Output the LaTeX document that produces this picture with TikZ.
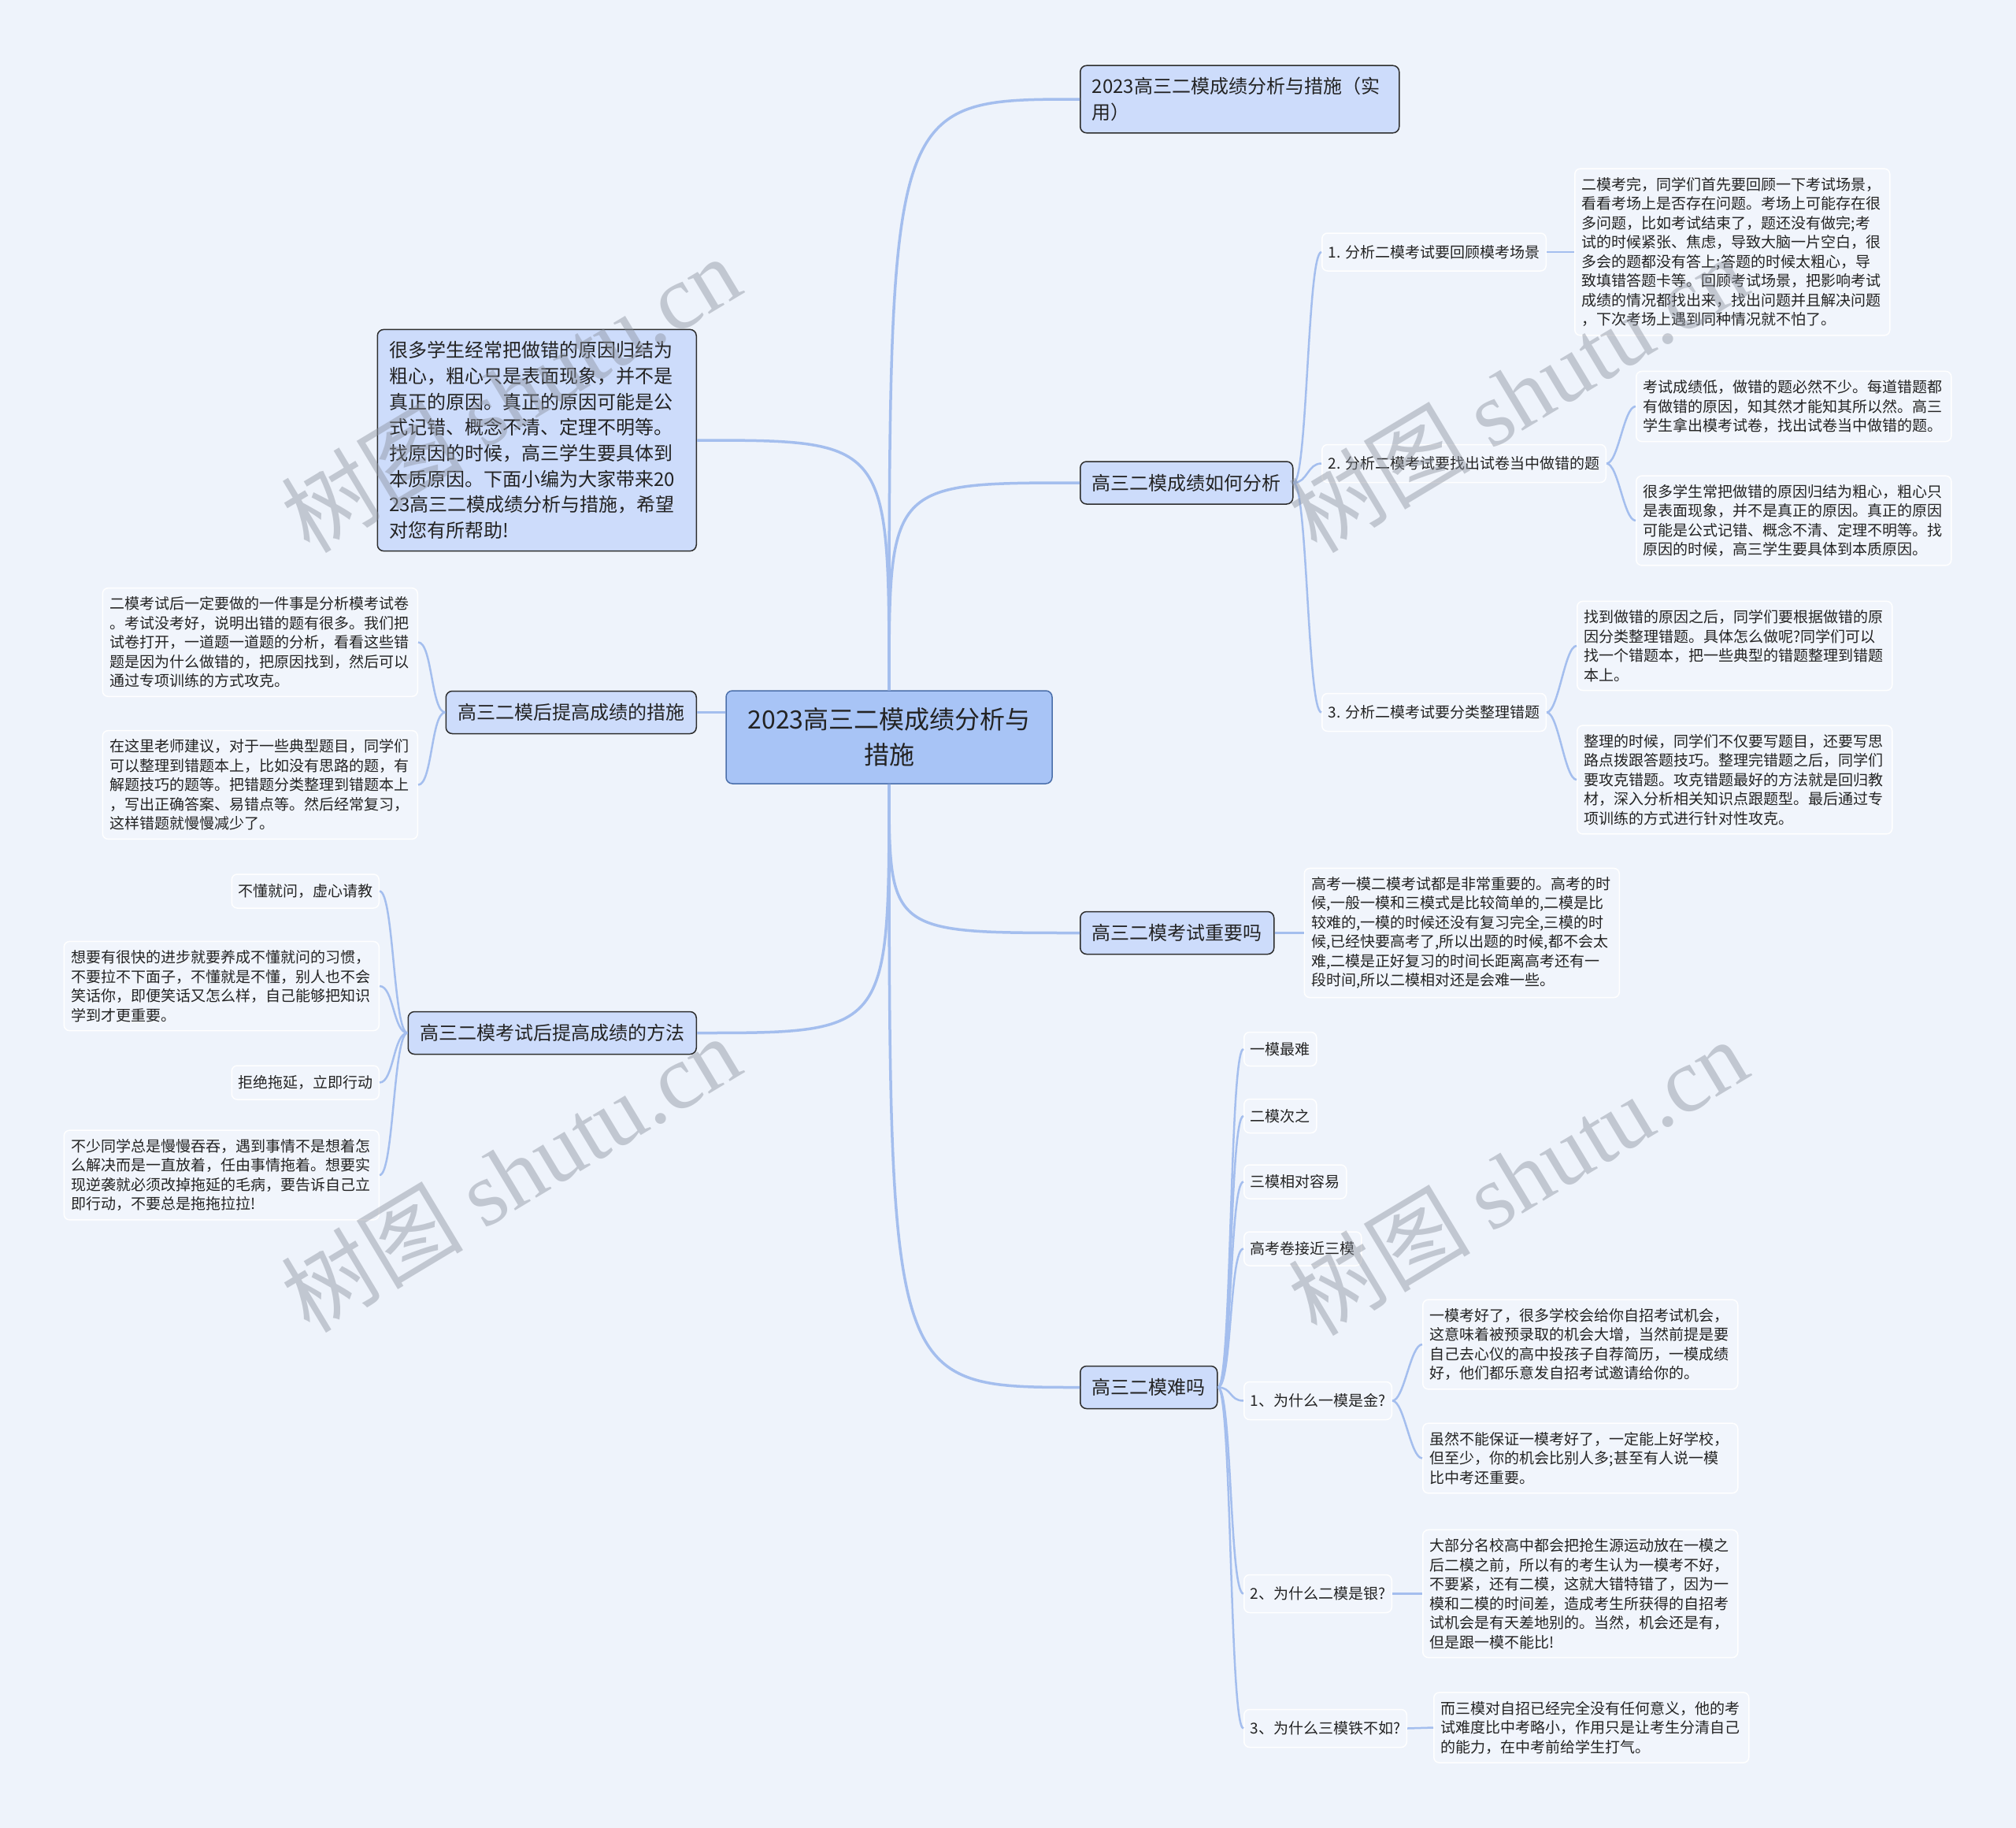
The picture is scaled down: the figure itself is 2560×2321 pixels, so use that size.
\documentclass[tikz,border=0pt]{standalone}
\usepackage{fontspec}
\setmainfont{Noto Sans CJK SC}
\newfontfamily\wmserif{Liberation Serif}
\usepackage{tikz}
\usetikzlibrary{positioning}

\definecolor{bgblue}{RGB}{238,243,251}
\definecolor{rootfill}{RGB}{168,196,246}
\definecolor{rootline}{RGB}{74,110,170}
\definecolor{topicfill}{RGB}{205,220,251}
\definecolor{topicline}{RGB}{45,45,45}
\definecolor{leaffill}{RGB}{241,245,252}
\definecolor{linkblue}{RGB}{164,190,238}
\definecolor{inkgrey}{RGB}{35,35,35}
\definecolor{wmgrey}{RGB}{140,146,158}

\begin{document}
\begin{tikzpicture}[
    x=1pt, y=-1pt,
    centre/.style={rectangle, rounded corners=8pt, draw=rootline, line width=1.5pt, fill=rootfill, text=inkgrey, align=center, minimum width=414pt, minimum height=118pt, font=\fontsize{32}{45}\selectfont},
    topic/.style={rectangle, rounded corners=8pt, draw=topicline, line width=1.5pt, fill=topicfill, text=inkgrey, align=left, inner xsep=15pt, inner ysep=15pt, minimum height=54pt, font=\fontsize{24}{32.7}\selectfont},
    sub/.style={rectangle, rounded corners=7pt, draw=white, line width=1.5pt, fill=leaffill, text=inkgrey, inner xsep=8pt, minimum height=48pt, font=\fontsize{19}{24.5}\selectfont},
    memo/.style={sub, text width=382pt, align=left, inner xsep=9pt, inner ysep=11pt, minimum height=0pt},
    trunk/.style={draw=linkblue, line width=3.5pt},
    twig/.style={draw=linkblue, line width=2.5pt},
    wmark/.style={rotate=31, text=wmgrey, text opacity=0.45, font=\fontsize{116}{116}\selectfont}
]
    \fill[bgblue] (0,0) rectangle (2560,2321);
    \useasboundingbox (0,0) rectangle (2560,2321);

    % Centre topic
    \node[centre] (root) at (1129,936) {2023高三二模成绩分析与\\措施};

    % Main branches
    \node[topic, anchor=west, text width=375pt] (n1) at (1371,126) {2023高三二模成绩分析与措施（实\\用）};
    \node[topic, anchor=west] (n2) at (1371,613) {高三二模成绩如何分析};
    \node[topic, anchor=west] (n3) at (1371,1184.5) {高三二模考试重要吗};
    \node[topic, anchor=west] (n4) at (1371,1761.5) {高三二模难吗};
    \node[topic, anchor=east, text width=375pt] (n5) at (885,559) {很多学生经常把做错的原因归结为\\粗心，粗心只是表面现象，并不是\\真正的原因。真正的原因可能是公\\式记错、概念不清、定理不明等。\\找原因的时候，高三学生要具体到\\本质原因。下面小编为大家带来20\\23高三二模成绩分析与措施，希望\\对您有所帮助!};
    \node[topic, anchor=east] (n6) at (885,904.5) {高三二模后提高成绩的措施};
    \node[topic, anchor=east] (n7) at (885,1311.5) {高三二模考试后提高成绩的方法};

    % How to analyse
    \node[sub, anchor=west] (l21) at (1678,320) {1. 分析二模考试要回顾模考场景};
    \node[sub, anchor=west] (l22) at (1678,588.5) {2. 分析二模考试要找出试卷当中做错的题};
    \node[sub, anchor=west] (l23) at (1678,904.5) {3. 分析二模考试要分类整理错题};
    \node[memo, right=35pt of l21] (t21) {二模考完，同学们首先要回顾一下考试场景，\\看看考场上是否存在问题。考场上可能存在很\\多问题，比如考试结束了，题还没有做完;考\\试的时候紧张、焦虑，导致大脑一片空白，很\\多会的题都没有答上;答题的时候太粗心，导\\致填错答题卡等。回顾考试场景，把影响考试\\成绩的情况都找出来，找出问题并且解决问题\\，下次考场上遇到同种情况就不怕了。};
    \node[memo, anchor=west] (t22a) at (2077,516) {考试成绩低，做错的题必然不少。每道错题都\\有做错的原因，知其然才能知其所以然。高三\\学生拿出模考试卷，找出试卷当中做错的题。};
    \node[memo, anchor=west] (t22b) at (2077,661) {很多学生常把做错的原因归结为粗心，粗心只\\是表面现象，并不是真正的原因。真正的原因\\可能是公式记错、概念不清、定理不明等。找\\原因的时候，高三学生要具体到本质原因。};
    \node[memo, anchor=west] (t23a) at (2002,820) {找到做错的原因之后，同学们要根据做错的原\\因分类整理错题。具体怎么做呢?同学们可以\\找一个错题本，把一些典型的错题整理到错题\\本上。};
    \node[memo, anchor=west] (t23b) at (2002,990) {整理的时候，同学们不仅要写题目，还要写思\\路点拨跟答题技巧。整理完错题之后，同学们\\要攻克错题。攻克错题最好的方法就是回归教\\材，深入分析相关知识点跟题型。最后通过专\\项训练的方式进行针对性攻克。};

    % Is it important
    \node[memo, right=37pt of n3] (t3) {高考一模二模考试都是非常重要的。高考的时\\候,一般一模和三模式是比较简单的,二模是比\\较难的,一模的时候还没有复习完全,三模的时\\候,已经快要高考了,所以出题的时候,都不会太\\难,二模是正好复习的时间长距离高考还有一\\段时间,所以二模相对还是会难一些。};

    % Is it hard
    \node[sub, anchor=west, minimum height=43pt] (k1) at (1579,1332) {一模最难};
    \node[sub, anchor=west, minimum height=43pt] (k2) at (1579,1417) {二模次之};
    \node[sub, anchor=west, minimum height=43pt] (k3) at (1579,1500.5) {三模相对容易};
    \node[sub, anchor=west, minimum height=43pt] (k4) at (1579,1585.5) {高考卷接近三模};
    \node[sub, anchor=west] (k5) at (1579,1778.5) {1、为什么一模是金?};
    \node[sub, anchor=west] (k6) at (1579,2023.5) {2、为什么二模是银?};
    \node[sub, anchor=west] (k7) at (1579,2194.5) {3、为什么三模铁不如?};
    \node[memo, anchor=west] (t51) at (1806,1707) {一模考好了，很多学校会给你自招考试机会，\\这意味着被预录取的机会大增，当然前提是要\\自己去心仪的高中投孩子自荐简历，一模成绩\\好，他们都乐意发自招考试邀请给你的。};
    \node[memo, anchor=west] (t52) at (1806,1851.5) {虽然不能保证一模考好了，一定能上好学校，\\但至少，你的机会比别人多;甚至有人说一模\\比中考还重要。};
    \node[memo, anchor=west] (t6) at (1806,2023.5) {大部分名校高中都会把抢生源运动放在一模之\\后二模之前，所以有的考生认为一模考不好，\\不要紧，还有二模，这就大错特错了，因为一\\模和二模的时间差，造成考生所获得的自招考\\试机会是有天差地别的。当然，机会还是有，\\但是跟一模不能比!};
    \node[memo, anchor=west] (t7) at (1820,2193.5) {而三模对自招已经完全没有任何意义，他的考\\试难度比中考略小，作用只是让考生分清自己\\的能力，在中考前给学生打气。};

    % Left side
    \node[memo, anchor=east] (p1) at (531,815.5) {二模考试后一定要做的一件事是分析模考试卷\\。考试没考好，说明出错的题有很多。我们把\\试卷打开，一道题一道题的分析，看看这些错\\题是因为什么做错的，把原因找到，然后可以\\通过专项训练的方式攻克。};
    \node[memo, anchor=east] (p2) at (531,996.5) {在这里老师建议，对于一些典型题目，同学们\\可以整理到错题本上，比如没有思路的题，有\\解题技巧的题等。把错题分类整理到错题本上\\，写出正确答案、易错点等。然后经常复习，\\这样错题就慢慢减少了。};
    \node[sub, anchor=east, minimum height=43pt] (q1) at (482,1131.5) {不懂就问，虚心请教};
    \node[memo, anchor=east] (q2) at (482,1252) {想要有很快的进步就要养成不懂就问的习惯，\\不要拉不下面子，不懂就是不懂，别人也不会\\笑话你，即便笑话又怎么样，自己能够把知识\\学到才更重要。};
    \node[sub, anchor=east, minimum height=43pt] (q3) at (482,1374.5) {拒绝拖延，立即行动};
    \node[memo, anchor=east] (q4) at (482,1492) {不少同学总是慢慢吞吞，遇到事情不是想着怎\\么解决而是一直放着，任由事情拖着。想要实\\现逆袭就必须改掉拖延的毛病，要告诉自己立\\即行动，不要总是拖拖拉拉!};

    % Connections
    \draw[trunk] (root.north) .. controls (root.north |- n1.west) .. (n1.west);
    \draw[trunk] (root.north) .. controls (root.north |- n2.west) .. (n2.west);
    \draw[trunk] (root.south) .. controls (root.south |- n3.west) .. (n3.west);
    \draw[trunk] (root.south) .. controls (root.south |- n4.west) .. (n4.west);
    \draw[trunk] (root.north) .. controls (root.north |- n5.east) .. (n5.east);
    \draw[trunk] (n6.east) -- (n6.east -| root.west);
    \draw[trunk] (root.south) .. controls (root.south |- n7.east) .. (n7.east);

    \foreach \k in {l21,l22,l23}
        \draw[twig] (n2.east) .. controls +(18,0) and +(-18,0) .. (\k.west);
    \draw[twig] (l21.east) .. controls +(15,0) and +(-15,0) .. (t21.west);
    \draw[twig] (l22.east) .. controls +(15,0) and +(-15,0) .. (t22a.west);
    \draw[twig] (l22.east) .. controls +(15,0) and +(-15,0) .. (t22b.west);
    \draw[twig] (l23.east) .. controls +(15,0) and +(-15,0) .. (t23a.west);
    \draw[twig] (l23.east) .. controls +(15,0) and +(-15,0) .. (t23b.west);
    \draw[twig] (n3.east) -- (t3.west);

    \foreach \k in {k1,k2,k3,k4,k5,k6,k7}
        \draw[twig] (n4.east) .. controls +(18,0) and +(-18,0) .. (\k.west);
    \draw[twig] (k5.east) .. controls +(15,0) and +(-15,0) .. (t51.west);
    \draw[twig] (k5.east) .. controls +(15,0) and +(-15,0) .. (t52.west);
    \draw[twig] (k6.east) -- (t6.west);
    \draw[twig] (k7.east) -- (t7.west);

    \foreach \k in {p1,p2}
        \draw[twig] (n6.west) .. controls +(-18,0) and +(18,0) .. (\k.east);
    \foreach \k in {q1,q2,q3,q4}
        \draw[twig] (n7.west) .. controls +(-18,0) and +(18,0) .. (\k.east);

    % Watermarks
    \foreach \wx/\wy [count=\i] in {648/500, 648/1490, 1927/500, 1927/1494}
        \node[wmark] (wm\i) at (\wx,\wy) {树图 {\wmserif shutu.cn}};

\end{tikzpicture}
\end{document}
